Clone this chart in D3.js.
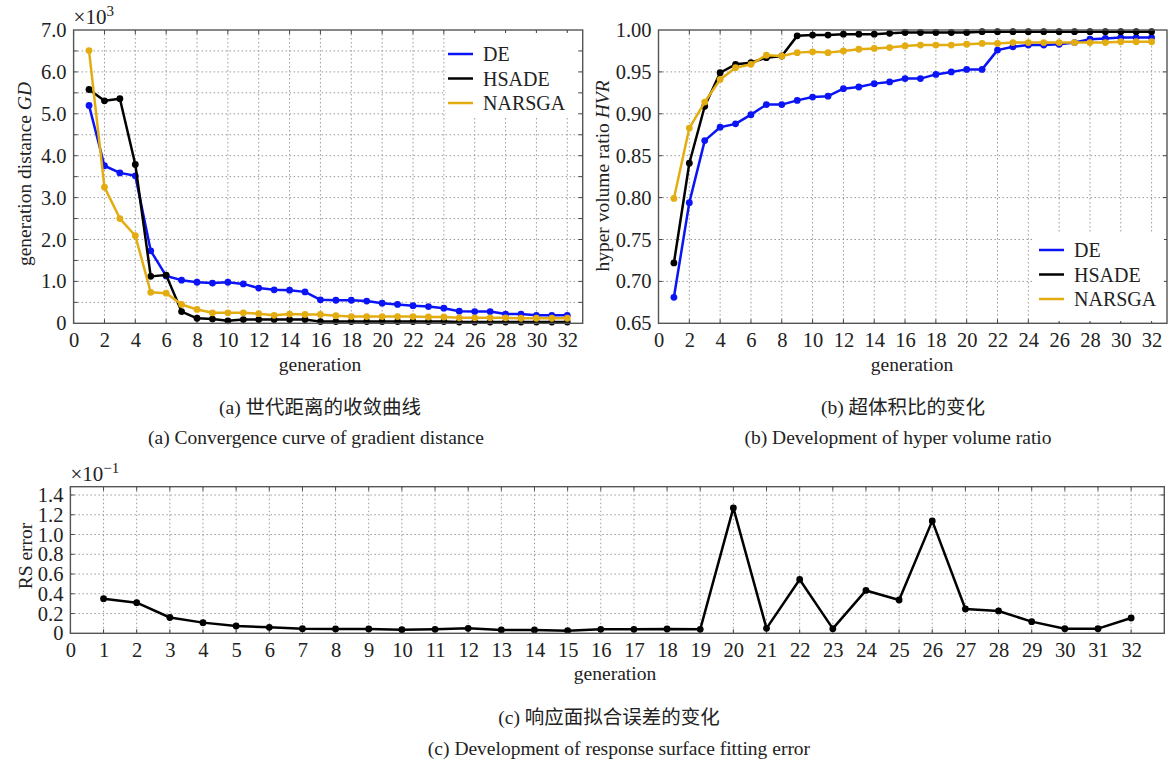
<!DOCTYPE html>
<html>
<head>
<meta charset="utf-8">
<script src="https://cdn.jsdelivr.net/npm/d3@7"></script>
<style>
  body { margin: 0; background: #fff; }
  svg text { font-family: 'Liberation Serif', 'Times New Roman', 'Noto Sans CJK SC', serif; fill: #222; }
</style>
</head>
<body>
<div id="chart"></div>
<script>
const generations = [1, 2, 3, 4, 5, 6, 7, 8, 9, 10, 11, 12, 13, 14, 15, 16,
  17, 18, 19, 20, 21, 22, 23, 24, 25, 26, 27, 28, 29, 30, 31, 32];
const seriesNames = ['DE', 'HSADE', 'NARSGA'];

// generation distance, x10^3
const gdDE = [5.20, 3.76, 3.59, 3.52, 1.73, 1.13, 1.03, 0.98, 0.96, 0.98, 0.94, 0.84, 0.80, 0.79, 0.75, 0.56,
  0.55, 0.55, 0.53, 0.48, 0.45, 0.42, 0.40, 0.36, 0.29, 0.28, 0.28, 0.22, 0.22, 0.19, 0.19, 0.19];
const gdHSADE = [5.58, 5.31, 5.36, 3.79, 1.12, 1.15, 0.28, 0.12, 0.10, 0.06, 0.09, 0.09, 0.09, 0.09, 0.09, 0.04,
  0.04, 0.04, 0.04, 0.04, 0.04, 0.04, 0.04, 0.04, 0.03, 0.03, 0.03, 0.03, 0.03, 0.03, 0.03, 0.03];
const gdNARSGA = [6.51, 3.25, 2.50, 2.09, 0.74, 0.72, 0.45, 0.33, 0.25, 0.25, 0.25, 0.23, 0.19, 0.22, 0.21, 0.21,
  0.18, 0.16, 0.16, 0.16, 0.16, 0.16, 0.15, 0.15, 0.13, 0.13, 0.13, 0.13, 0.12, 0.12, 0.12, 0.12];

// hyper volume ratio
const hvrDE = [0.681, 0.794, 0.868, 0.884, 0.888, 0.899, 0.911, 0.911, 0.916, 0.920, 0.921, 0.930, 0.932, 0.936, 0.938, 0.942,
  0.942, 0.947, 0.950, 0.953, 0.953, 0.976, 0.980, 0.982, 0.982, 0.983, 0.985, 0.989, 0.990, 0.991, 0.991, 0.991];
const hvrHSADE = [0.722, 0.841, 0.909, 0.949, 0.959, 0.961, 0.967, 0.969, 0.993, 0.994, 0.994, 0.995, 0.995, 0.995, 0.996, 0.997,
  0.997, 0.997, 0.997, 0.997, 0.998, 0.998, 0.998, 0.998, 0.998, 0.998, 0.998, 0.998, 0.998, 0.998, 0.998, 0.998];
const hvrNARSGA = [0.799, 0.883, 0.914, 0.941, 0.955, 0.959, 0.970, 0.969, 0.973, 0.974, 0.973, 0.975, 0.977, 0.978, 0.979, 0.981,
  0.982, 0.982, 0.982, 0.983, 0.984, 0.984, 0.985, 0.985, 0.985, 0.985, 0.985, 0.985, 0.985, 0.986, 0.986, 0.986];

// response surface error, x10^-1
const rsError = [0.35, 0.31, 0.16, 0.108, 0.074, 0.06, 0.047, 0.044, 0.044, 0.037, 0.04, 0.05, 0.034, 0.034, 0.027, 0.04,
  0.04, 0.044, 0.04, 1.27, 0.05, 0.545, 0.047, 0.434, 0.337, 1.138, 0.246, 0.226, 0.118, 0.047, 0.047, 0.155];

const xTicksEven = [0, 2, 4, 6, 8, 10, 12, 14, 16, 18, 20, 22, 24, 26, 28, 30, 32];
const xTicksAll = [0, 1, 2, 3, 4, 5, 6, 7, 8, 9, 10, 11, 12, 13, 14, 15, 16,
  17, 18, 19, 20, 21, 22, 23, 24, 25, 26, 27, 28, 29, 30, 31, 32];
const gdTicks = [0, 1, 2, 3, 4, 5, 6, 7];
const gdGrid = [0.5, 1, 1.5, 2, 2.5, 3, 3.5, 4, 4.5, 5, 5.5, 6, 6.5];
const hvrTicks = [0.65, 0.70, 0.75, 0.80, 0.85, 0.90, 0.95, 1.00];
const rsTicks = [0, 0.2, 0.4, 0.6, 0.8, 1.0, 1.2, 1.4];

const colors = { DE: '#0a14f5', HSADE: '#000000', NARSGA: '#e3ad12' };
const FONT = 19.5;
const TICK_FONT = 20.5;

const svg = d3.select('#chart').append('svg')
  .attr('width', 1170).attr('height', 764);

function drawPanel(cfg) {
  const g = svg.append('g');
  const x = d3.scaleLinear().domain([0, 33]).range([cfg.left, cfg.right]);
  const y = d3.scaleLinear().domain(cfg.yDomain).range([cfg.bottom, cfg.top]);

  // grid
  g.selectAll('.vgrid').data(cfg.xGrid.filter((d) => d > 0)).join('line')
    .attr('x1', (d) => x(d)).attr('x2', (d) => x(d))
    .attr('y1', cfg.top).attr('y2', cfg.bottom)
    .attr('stroke', '#999').attr('stroke-width', 1).attr('stroke-dasharray', '1.5,2.5');
  g.selectAll('.hgrid').data(cfg.yGrid).join('line')
    .attr('x1', cfg.left).attr('x2', cfg.right)
    .attr('y1', (d) => y(d)).attr('y2', (d) => y(d))
    .attr('stroke', '#999').attr('stroke-width', 1).attr('stroke-dasharray', '1.5,2.5');

  // inward ticks on all sides
  const tk = 4;
  g.selectAll('.tl').data(cfg.yGrid).join('line')
    .attr('x1', cfg.left).attr('x2', cfg.left + tk)
    .attr('y1', (d) => y(d)).attr('y2', (d) => y(d)).attr('stroke', '#444');
  g.selectAll('.tr').data(cfg.yGrid).join('line')
    .attr('x1', cfg.right).attr('x2', cfg.right - tk)
    .attr('y1', (d) => y(d)).attr('y2', (d) => y(d)).attr('stroke', '#444');
  g.selectAll('.tb').data(cfg.xGrid).join('line')
    .attr('x1', (d) => x(d)).attr('x2', (d) => x(d))
    .attr('y1', cfg.bottom).attr('y2', cfg.bottom - tk).attr('stroke', '#444');
  g.selectAll('.tt').data(cfg.xGrid).join('line')
    .attr('x1', (d) => x(d)).attr('x2', (d) => x(d))
    .attr('y1', cfg.top).attr('y2', cfg.top + tk).attr('stroke', '#444');

  // legend background hides the grid
  if (cfg.legend) {
    const L = cfg.legend;
    g.append('rect').attr('x', L.box[0]).attr('y', L.box[1])
      .attr('width', L.box[2]).attr('height', L.box[3]).attr('fill', '#fff');
  }

  // axes (labels only)
  const xAxis = g.append('g').attr('transform', `translate(0,${cfg.bottom})`)
    .call(d3.axisBottom(x).tickValues(cfg.xTicks).tickSize(0).tickPadding(9).tickFormat(d3.format('d')));
  const yAxis = g.append('g').attr('transform', `translate(${cfg.left},0)`)
    .call(d3.axisLeft(y).tickValues(cfg.yTicks).tickSize(0).tickPadding(7).tickFormat(cfg.yFormat));
  [xAxis, yAxis].forEach((a) => {
    a.select('.domain').remove();
    a.selectAll('text').style('font-size', TICK_FONT + 'px').attr('fill', '#222')
      .style('font-family', "'Liberation Serif', serif");
  });

  // series
  const line = d3.line().x((d, i) => x(generations[i])).y((d) => y(d));
  cfg.series.forEach((s) => {
    g.append('path').datum(s.values)
      .attr('d', line).attr('fill', 'none')
      .attr('stroke', s.color).attr('stroke-width', 2.5).attr('stroke-linejoin', 'round');
    g.selectAll(null).data(s.values).join('circle')
      .attr('cx', (d, i) => x(generations[i])).attr('cy', (d) => y(d))
      .attr('r', 3.4).attr('fill', s.color);
  });

  // frame
  g.append('rect').attr('x', cfg.left).attr('y', cfg.top)
    .attr('width', cfg.right - cfg.left).attr('height', cfg.bottom - cfg.top)
    .attr('fill', 'none').attr('stroke', '#555').attr('stroke-width', 1.4);

  // legend
  if (cfg.legend) {
    const L = cfg.legend;
    cfg.series.forEach((s, i) => {
      const ly = L.y + i * 24.5;
      g.append('line').attr('x1', L.x).attr('x2', L.x + 25)
        .attr('y1', ly).attr('y2', ly).attr('stroke', s.color).attr('stroke-width', 2.5);
      g.append('text').attr('x', L.x + 35).attr('y', ly).attr('dy', '0.35em')
        .style('font-size', '20px').text(s.name);
    });
  }

  // x label
  g.append('text').attr('x', cfg.xLabel[0]).attr('y', cfg.xLabel[1])
    .attr('text-anchor', 'middle').attr('dy', '0.35em').style('font-size', FONT + 'px')
    .text('generation');

  // y label
  const yl = g.append('text')
    .attr('transform', `translate(${cfg.yLabel[0]},${cfg.yLabel[1]}) rotate(-90)`)
    .attr('text-anchor', 'middle').attr('dy', '0.35em').style('font-size', FONT + 'px');
  yl.append('tspan').text(cfg.yLabelText);
  if (cfg.yLabelItalic) yl.append('tspan').style('font-style', 'italic').text(cfg.yLabelItalic);

  // exponent
  if (cfg.exponent) {
    const e = g.append('text').attr('x', cfg.left).attr('y', cfg.top - 6)
      .style('font-size', '21px');
    e.append('tspan').text('×10');
    e.append('tspan').attr('dy', -8).style('font-size', '15px').text(cfg.exponent);
  }

  // captions
  cfg.captions.forEach((c) => {
    g.append('text').attr('x', c[0]).attr('y', c[1]).attr('dy', '0.35em')
      .attr('text-anchor', 'middle').style('font-size', FONT + 'px').text(c[2]);
  });
}

const fmtZero = (f) => (d) => (d === 0 ? '0' : d3.format(f)(d));

drawPanel({
  left: 73.6, right: 582.7, top: 30, bottom: 323.3,
  yDomain: [0, 7],
  xTicks: xTicksEven, xGrid: xTicksEven,
  yTicks: gdTicks, yGrid: gdGrid, yFormat: fmtZero('.1f'),
  series: [
    { name: seriesNames[0], values: gdDE, color: colors.DE },
    { name: seriesNames[1], values: gdHSADE, color: colors.HSADE },
    { name: seriesNames[2], values: gdNARSGA, color: colors.NARSGA },
  ],
  legend: { x: 448, y: 54, box: [446, 33, 132, 84] },
  xLabel: [320, 364],
  yLabel: [24, 174], yLabelText: 'generation distance ', yLabelItalic: 'GD',
  exponent: '3',
  captions: [[320, 407, '(a) 世代距离的收敛曲线'], [316, 437, '(a) Convergence curve of gradient distance']],
});

drawPanel({
  left: 658.5, right: 1167, top: 30, bottom: 323.3,
  yDomain: [0.65, 1.0],
  xTicks: xTicksEven, xGrid: xTicksEven,
  yTicks: hvrTicks, yGrid: hvrTicks.slice(1, -1), yFormat: d3.format('.2f'),
  series: [
    { name: seriesNames[0], values: hvrDE, color: colors.DE },
    { name: seriesNames[1], values: hvrHSADE, color: colors.HSADE },
    { name: seriesNames[2], values: hvrNARSGA, color: colors.NARSGA },
  ],
  legend: { x: 1039, y: 250, box: [1033, 233, 131, 88] },
  xLabel: [912, 364],
  yLabel: [602, 176], yLabelText: 'hyper volume ratio ', yLabelItalic: 'HVR',
  captions: [[903, 407, '(b) 超体积比的变化'], [898, 437, '(b) Development of hyper volume ratio']],
});

drawPanel({
  left: 70.4, right: 1164.3, top: 486.7, bottom: 633.3,
  yDomain: [0, 1.484],
  xTicks: xTicksAll, xGrid: xTicksAll,
  yTicks: rsTicks, yGrid: rsTicks.slice(1), yFormat: fmtZero('.1f'),
  series: [{ name: 'RS', values: rsError, color: '#000' }],
  xLabel: [615, 673],
  yLabel: [25, 556], yLabelText: 'RS error',
  exponent: '−1',
  captions: [[609, 717, '(c) 响应面拟合误差的变化'], [619, 748, '(c) Development of response surface fitting error']],
});
</script>
</body>
</html>
